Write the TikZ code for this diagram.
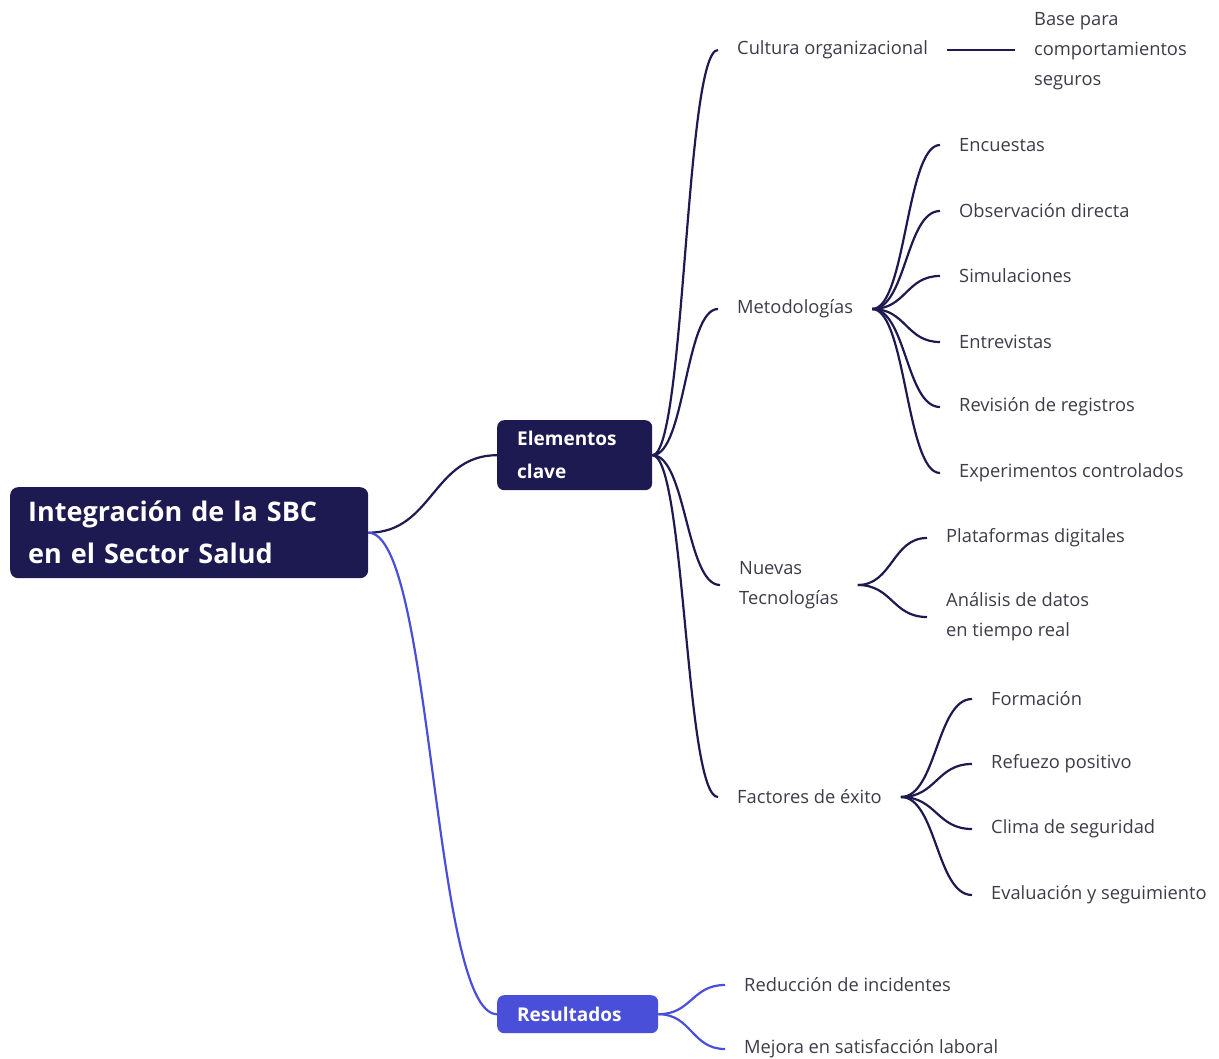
\documentclass[tikz,border=0pt]{standalone}
\usepackage{fontspec}
\setmainfont{Open Sans}
\usetikzlibrary{positioning,calc}

\definecolor{navy}{HTML}{1D1A52}
\definecolor{violet}{HTML}{4A4FD9}
\definecolor{txt}{HTML}{3C3C48}

\tikzset{
  mmlink/.style={to path={let \p1=(\tikztostart), \p2=(\tikztotarget) in
      .. controls ({0.5*\x1+0.5*\x2},\y1) and ({0.5*\x1+0.5*\x2},\y2) .. (\tikztotarget)}},
  navyline/.style={draw=navy, line width=2.2pt},
  violetline/.style={draw=violet, line width=2.2pt},
  rootbox/.style={fill=navy, rounded corners=8pt, text=white, anchor=north west,
      font=\bfseries\fontsize{27}{42}\selectfont, align=left, text width=322pt,
      inner xsep=18pt, minimum height=91pt},
  keybox/.style={fill=navy, rounded corners=7pt, text=white, anchor=north west,
      font=\bfseries\fontsize{19}{33}\selectfont, align=left, text width=115pt,
      inner xsep=20pt, minimum height=70pt},
  resbox/.style={keybox, fill=violet, text width=121pt, minimum height=38pt},
  topic/.style={text=txt, anchor=west, font=\fontsize{18.3}{30}\selectfont,
      align=left, inner xsep=19pt, inner ysep=0pt},
}

\begin{document}
\begin{tikzpicture}[x=1pt, y=-1pt]
\useasboundingbox (0,0) rectangle (1219,1059);

% main boxes
\node[rootbox] (root) at (10,487) {Integración de la SBC\\en el Sector Salud};
\node[keybox] (elem) at (497,420) {Elementos\\clave};
\node[resbox] (res) at (497,995) {Resultados};

% first level
\node[topic] (cult) at (718,50) {Cultura organizacional};
\node[topic] (metod) at (718,309) {Metodologías};
\node[topic] (tecno) at (720,585) {Nuevas\\Tecnologías};
\node[topic] (factor) at (718,797) {Factores de éxito};

\node[topic] (base) at (1015,51) {Base para\\comportamientos\\seguros};

% metodologias
\node[topic] (enc) at (940,145) {Encuestas};
\node[topic] (obs) at (940,211) {Observación directa};
\node[topic] (sim) at (940,276) {Simulaciones};
\node[topic] (ent) at (940,342) {Entrevistas};
\node[topic] (rev) at (940,407) {Revisión de registros};
\node[topic] (exp) at (940,473) {Experimentos controlados};

% tecnologias
\node[topic] (plat) at (927,538) {Plataformas digitales};
\node[topic] (anal) at (927,617) {Análisis de datos\\en tiempo real};

% factores
\node[topic] (form) at (972,699) {Formación};
\node[topic] (refu) at (972,764) {Refuezo positivo};
\node[topic] (clima) at (972,829) {Clima de seguridad};
\node[topic] (eval) at (972,895) {Evaluación y seguimiento};

% resultados
\node[topic] (redu) at (725,985) {Reducción de incidentes};
\node[topic] (mejo) at (725,1049) {Mejora en satisfacción laboral};

% connectors
\draw[navyline] (root.east) to[mmlink] (elem.west);
\draw[violetline] (root.east) to[mmlink] (res.west);

\foreach \t in {cult,metod,tecno,factor}
  \draw[navyline] (elem.east) to[mmlink] (\t.west);
\draw[navyline] (cult.east) -- (cult.east -| base.west);

\foreach \t in {enc,obs,sim,ent,rev,exp}
  \draw[navyline] (metod.east) to[mmlink] (\t.west);
\foreach \t in {plat,anal}
  \draw[navyline] (tecno.east) to[mmlink] (\t.west);
\foreach \t in {form,refu,clima,eval}
  \draw[navyline] (factor.east) to[mmlink] (\t.west);
\foreach \t in {redu,mejo}
  \draw[violetline] (res.east) to[mmlink] (\t.west);

\end{tikzpicture}
\end{document}
